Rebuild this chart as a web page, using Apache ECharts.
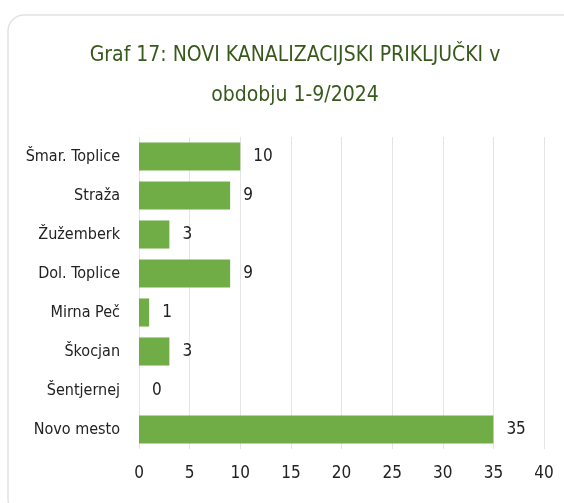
<!DOCTYPE html>
<html>
<head>
<meta charset="utf-8">
<script src="https://cdn.jsdelivr.net/npm/echarts@6/dist/echarts.min.js"></script>
<style>
  html, body { margin: 0; padding: 0; background: #fff; }
  #chart { width: 564px; height: 503px; }
</style>
</head>
<body>
<div id="chart"></div>
<script>
const categories = ['Šmar. Toplice', 'Straža', 'Žužemberk', 'Dol. Toplice', 'Mirna Peč', 'Škocjan', 'Šentjernej', 'Novo mesto'];
const values = [10, 9, 3, 9, 1, 3, 0, 35];
const titleText = 'Graf 17: NOVI KANALIZACIJSKI PRIKLJUČKI v\nobdobju 1-9/2024';

const font = '"Liberation Sans Narrow", "DejaVu Sans Condensed", "Roboto", sans-serif';

const chart = echarts.init(document.getElementById('chart'));

chart.setOption({
  animation: false,
  backgroundColor: '#fff',
  graphic: [{
    type: 'rect',
    shape: { x: 8, y: 15, width: 580, height: 500, r: 16 },
    style: { fill: '#fff', stroke: '#e2e2e2', lineWidth: 1.5 },
    z: -10
  }],
  title: {
    text: titleText,
    left: 290,
    textAlign: 'center',
    top: 31,
    textStyle: {
      fontFamily: font,
      fontSize: 21,
      fontWeight: 'normal',
      color: '#38591c',
      lineHeight: 40
    }
  },
  grid: { left: 139, right: 20, top: 137, bottom: 54 },
  xAxis: {
    type: 'value',
    min: 0,
    max: 40,
    interval: 5,
    axisLine: { show: false },
    axisTick: { show: false },
    splitLine: { lineStyle: { color: '#e4e4e4' } },
    axisLabel: { fontFamily: font, fontSize: 17, color: '#222', margin: 16 }
  },
  yAxis: {
    type: 'category',
    inverse: true,
    data: categories,
    axisLine: { show: false },
    axisTick: { show: false },
    axisLabel: { fontFamily: font, fontSize: 16, color: '#222', margin: 19 }
  },
  series: [{
    type: 'bar',
    data: values,
    barCategoryGap: '28%',
    itemStyle: { color: '#70ad47' },
    label: {
      show: true,
      position: 'right',
      distance: 13,
      fontFamily: font,
      fontSize: 17,
      color: '#222'
    }
  }]
});
</script>
</body>
</html>
